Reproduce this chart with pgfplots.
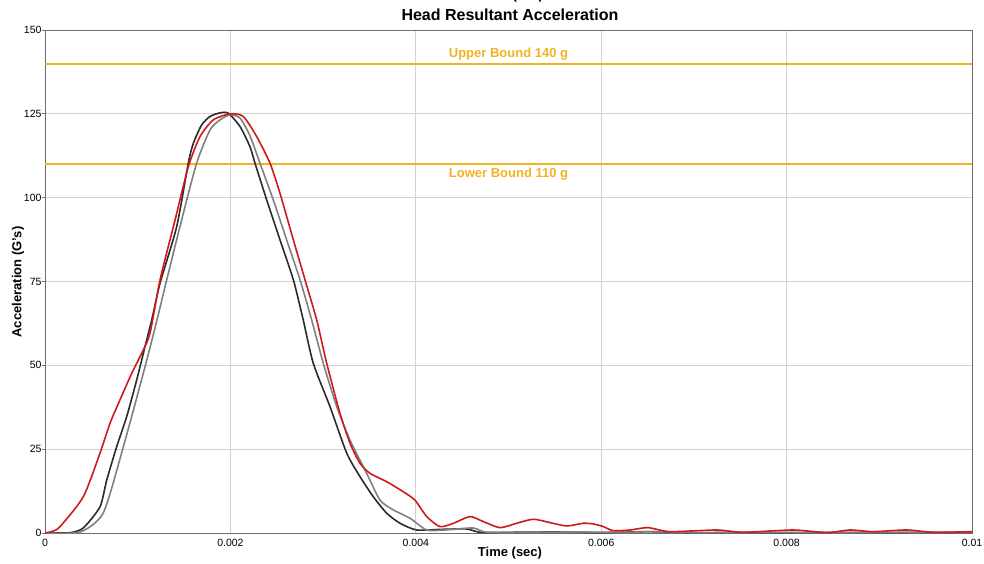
\documentclass[border=0pt]{standalone}
\usepackage{fontspec}
\setmainfont{Liberation Sans}
\usepackage{pgfplots}
\pgfplotsset{compat=1.18}
\definecolor{cblack}{HTML}{2B2B2B}
\definecolor{cgray}{HTML}{808080}
\definecolor{cred}{HTML}{D01A1A}
\definecolor{cyel}{HTML}{F2B322}
\definecolor{cgrid}{HTML}{D2D2D2}
\definecolor{caxis}{HTML}{6E6E6E}
\begin{document}
\begin{tikzpicture}
\begin{axis}[
  at={(0,0)}, anchor=south west,
  scale only axis, width=927pt, height=503pt,
  xmin=0, xmax=0.01, ymin=0, ymax=150,
  xtick={0,0.002,0.004,0.006,0.008,0.01},
  xticklabels={0,0.002,0.004,0.006,0.008,0.01},
  scaled x ticks=false,
  ytick={0,25,50,75,100,125,150},
  ytick pos=left, xtick pos=bottom,
  /pgf/number format/assume math mode=true,
  tick label style={font=\fontsize{10.5}{12}\selectfont, black},
  grid=major, major grid style={cgrid, line width=0.9pt},
  axis line style={caxis, line width=0.9pt},
  tick align=outside,
  major tick length=3pt,
  xtick style={draw=none},
  ytick style={caxis, line width=0.8pt},
  xticklabel style={yshift=0.5pt},
  yticklabel style={xshift=3pt},
  clip=true,
]
\addplot[draw=cyel, line width=2pt, forget plot] coordinates {(0,110) (0.01,110)};
\addplot[draw=cyel, line width=2pt, forget plot] coordinates {(0,139.9) (0.01,139.9)};
% black
\addplot[cblack, line width=1.6pt, smooth, tension=0.4] coordinates {
(0,0) (0.00027,0.1) (0.000413,1.5) (0.000593,7.8) (0.000666,15.8) (0.000773,25.7)
(0.000881,34.7) (0.000989,45.6) (0.001079,55.6) (0.001151,63.5) (0.001241,74.5)
(0.001421,91.4) (0.001546,110.3) (0.001600,116.2) (0.001690,121.7) (0.001780,124.2)
(0.001888,125.3) (0.001977,125.2) (0.002104,121.2) (0.002211,115.2) (0.002265,110.3)
(0.002392,99.3) (0.002535,87.4) (0.002679,75.5) (0.002786,63.5) (0.002894,50.6)
(0.003074,37.7) (0.003255,23.8) (0.003398,16.8) (0.003542,10.8) (0.003686,5.9)
(0.003830,2.9) (0.004010,0.9) (0.004293,1.1) (0.004549,1.2) (0.004693,0.2)
(0.0050,0.2) (0.0055,0.3) (0.0060,0.1) (0.0065,0.4) (0.0070,0.1) (0.0075,0.2)
(0.0080,0.1) (0.0085,0.2) (0.0090,0.1) (0.0095,0.2) (0.0100,0.1)};
% gray
\addplot[cgray, line width=1.6pt, smooth, tension=0.4] coordinates {
(0,0) (0.000378,0.3) (0.000629,6.0) (0.000845,25.7) (0.001060,47.6) (0.001190,61.5)
(0.001313,75.5) (0.001480,94.0) (0.001636,110.3) (0.001780,120.2) (0.001888,123.2)
(0.001996,124.7) (0.002104,123.7) (0.002210,118.5) (0.002319,110.3) (0.002463,99.3)
(0.002607,87.4) (0.002751,75.5) (0.002877,63.5) (0.003002,50.6) (0.003147,37.7)
(0.003290,27.7) (0.003470,17.8) (0.003614,9.8) (0.003757,6.9) (0.003937,4.4)
(0.004118,0.9) (0.004315,0.9) (0.004617,1.5) (0.004765,0.2) (0.0052,0.2)
(0.0058,0.3) (0.0062,0.2) (0.0066,0.4) (0.0071,0.1) (0.0078,0.2) (0.0085,0.1)
(0.0092,0.2) (0.0100,0.1)};
% red
\addplot[cred, line width=1.6pt, smooth, tension=0.4] coordinates {
(0,0) (0.00008,0.5) (0.000162,1.9) (0.000413,10.8) (0.000593,23.8) (0.000701,32.7)
(0.000809,39.7) (0.000935,47.6) (0.001043,53.6) (0.001133,59.6) (0.001241,75.5)
(0.001400,93.0) (0.001546,109.2) (0.001672,118.2) (0.001816,123.2) (0.001996,125.0)
(0.002139,124.2) (0.002284,118.2) (0.002427,110.3) (0.002535,101.3) (0.002679,87.4)
(0.002805,75.5) (0.002931,63.5) (0.003039,50.6) (0.003182,35.7) (0.003290,26.8)
(0.003398,20.8) (0.003506,17.8) (0.003686,15.3) (0.003865,12.3) (0.003991,9.8)
(0.004118,4.9) (0.004261,1.9) (0.004405,2.9) (0.004585,4.9) (0.004728,3.4)
(0.004908,1.6) (0.005088,2.9) (0.005267,4.1) (0.005448,3.1) (0.005628,2.1)
(0.005807,2.9) (0.005915,2.7) (0.006023,1.9) (0.006130,0.7) (0.006311,0.9)
(0.006505,1.6) (0.006742,0.4) (0.007246,0.9) (0.007533,0.2) (0.008072,0.9)
(0.008432,0.1) (0.008684,0.9) (0.008935,0.4) (0.009296,0.9) (0.009583,0.2)
(0.010000,0.4)};
\node[cyel, font=\bfseries\fontsize{13}{15}\selectfont] at (axis cs:0.005,142.9) {Upper Bound 140 g};
\node[cyel, font=\bfseries\fontsize{13}{15}\selectfont] at (axis cs:0.005,107.0) {Lower Bound 110 g};
\end{axis}
\node[font=\bfseries\fontsize{13}{15}\selectfont] at (465pt,-20pt) {Time (sec)};
\node[font=\bfseries\fontsize{13}{15}\selectfont, rotate=90] at (-27pt,251pt) {Acceleration (G's)};
\node[font=\bfseries\fontsize{16}{18}\selectfont] at (465pt,518pt) {Head Resultant Acceleration};
\node[font=\bfseries\fontsize{13}{15}\selectfont] at (466pt,537pt) {Time (sec)};
\pgfresetboundingbox
\useasboundingbox (-45pt,-30pt) rectangle (939pt,533pt);
\end{tikzpicture}
\end{document}
